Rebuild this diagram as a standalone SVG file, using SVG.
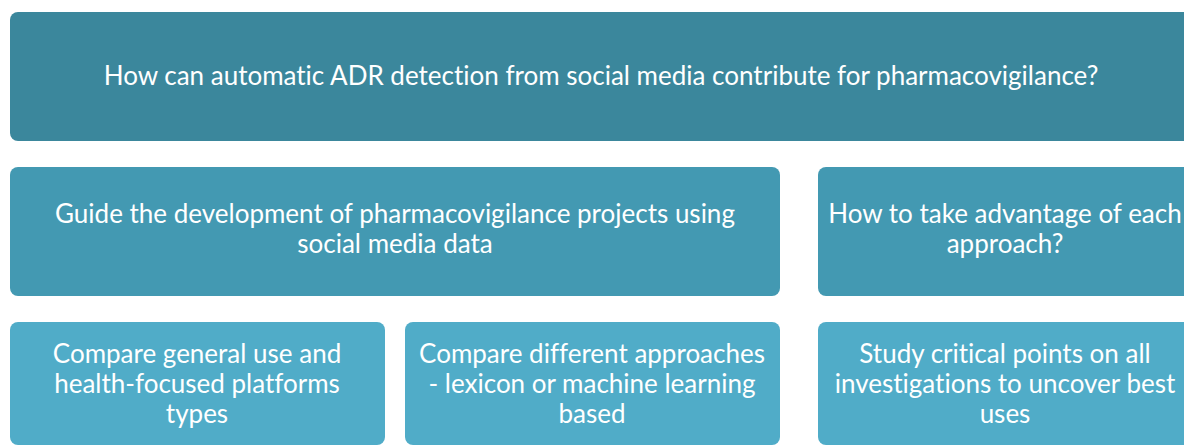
<svg xmlns="http://www.w3.org/2000/svg" width="1184" height="446" viewBox="0 0 1184 446">
  <style>
    .box { stroke: none; }
    .lvl1 { fill: #3b879c; }
    .lvl2 { fill: #4399b2; }
    .lvl3 { fill: #50acc8; }
    .label { font-family: Lato, "Open Sans", "Liberation Sans", sans-serif; font-size: 26px; fill: #ffffff; text-anchor: middle; font-variant-ligatures: none; }
  </style>
  <rect width="1184" height="446" fill="#ffffff"/>

  <!-- top question -->
  <g id="node-question">
    <rect class="box lvl1" x="10" y="12" width="1182" height="129" rx="8"/>
    <text class="label" x="601" y="85">How can automatic ADR detection from social media contribute for pharmacovigilance?</text>
  </g>

  <!-- second row -->
  <g id="node-guide">
    <rect class="box lvl2" x="10" y="167" width="770" height="129" rx="8"/>
    <text class="label" x="395" y="223">Guide the development of pharmacovigilance projects using</text>
    <text class="label" x="395" y="253">social media data</text>
  </g>
  <g id="node-advantage">
    <rect class="box lvl2" x="818" y="167" width="374" height="129" rx="8"/>
    <text class="label" x="1005" y="223">How to take advantage of each</text>
    <text class="label" x="1005" y="253">approach?</text>
  </g>

  <!-- third row -->
  <g id="node-platforms">
    <rect class="box lvl3" x="10" y="322" width="375" height="123" rx="8"/>
    <text class="label" x="197" y="363">Compare general use and</text>
    <text class="label" x="197" y="393">health-focused platforms</text>
    <text class="label" x="197" y="423">types</text>
  </g>
  <g id="node-approaches">
    <rect class="box lvl3" x="405" y="322" width="375" height="123" rx="8"/>
    <text class="label" x="592" y="363">Compare different approaches</text>
    <text class="label" x="592" y="393">- lexicon or machine learning</text>
    <text class="label" x="592" y="423">based</text>
  </g>
  <g id="node-critical">
    <rect class="box lvl3" x="818" y="322" width="374" height="123" rx="8"/>
    <text class="label" x="1005" y="363">Study critical points on all</text>
    <text class="label" x="1005" y="393">investigations to uncover best</text>
    <text class="label" x="1005" y="423">uses</text>
  </g>

  <g id="connectors"></g>
</svg>
